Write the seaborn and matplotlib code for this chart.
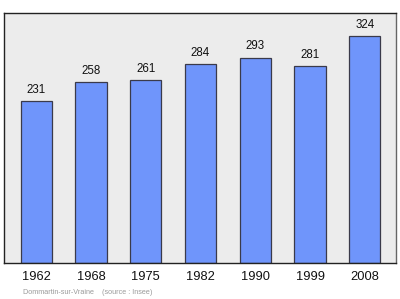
import matplotlib
matplotlib.use("Agg")
import matplotlib.pyplot as plt
import seaborn as sns
import pandas as pd

years = ["1962", "1968", "1975", "1982", "1990", "1999", "2008"]
population = [231, 258, 261, 284, 293, 281, 324]
footer = "Dommartin-sur-Vraine    (source : Insee)"

sns.set_style("white")
plt.rcParams['font.family'] = ['Liberation Sans', 'DejaVu Sans']

df = pd.DataFrame({"year": years, "pop": population})

fig = plt.figure(figsize=(4.0, 2.99), dpi=100)
ax = fig.add_axes([4/400, 1 - 263/299, 392/400, 250/299])
ax.set_facecolor("#ececec")

sns.barplot(data=df, x="year", y="pop", ax=ax, color="#6f95fb",
            saturation=1, width=0.57, edgecolor="#3a3a4a", linewidth=0.9)

for i, v in enumerate(population):
    ax.text(i, v + 8, str(v), ha="center", va="bottom", fontsize=8.3, color="#111111")

ax.set_ylim(0, 357)
ax.set_xlim(-0.59, 6.57)
ax.set_xlabel("")
ax.set_ylabel("")
ax.set_yticks([])
ax.tick_params(axis="x", length=0, pad=6, labelsize=9.3, labelcolor="#111111")
for s in ax.spines.values():
    s.set_visible(True)
    s.set_color("#222222")
    s.set_linewidth(1.0)
ax.spines["right"].set_color("#666666")

fig.text(23/400, 1 - 293/299, footer, fontsize=5.2, color="#9a9a9a", va="center", ha="left")

fig.savefig("out.png", dpi=100)
